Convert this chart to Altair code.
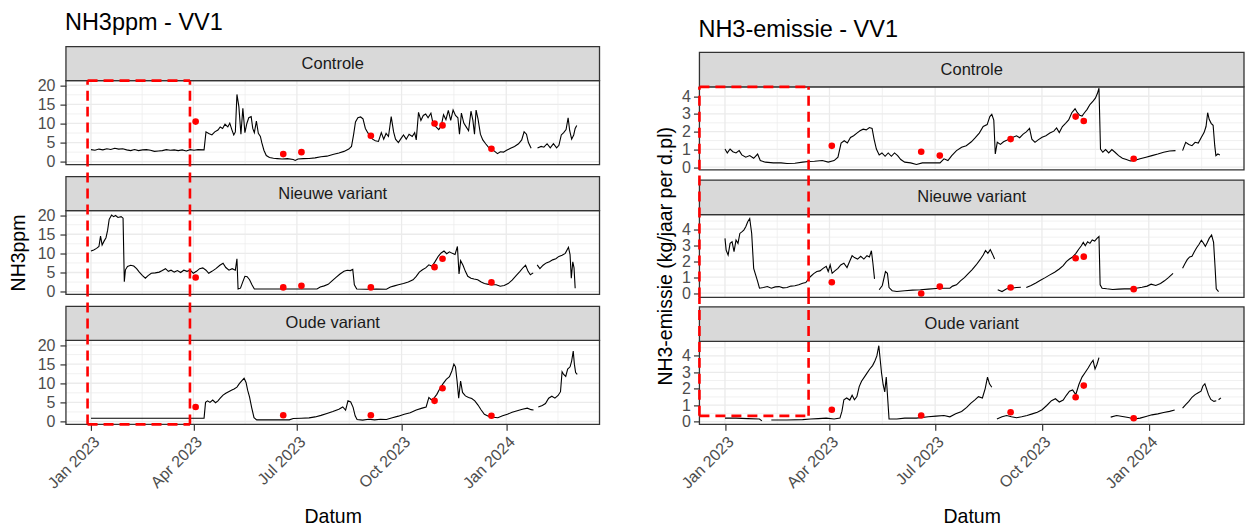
import altair as alt
import pandas as pd

FONT = "Liberation Sans"
BORDER = "#333333"
GRID = "#EBEBEB"
STRIP_FILL = "#D9D9D9"
TICK_TXT = "#4D4D4D"

START = pd.Timestamp("2023-01-01")
X_LO = pd.Timestamp("2022-12-10")
X_HI = pd.Timestamp("2024-03-23")
QUARTERS = pd.to_datetime(["2023-01-01", "2023-04-01", "2023-07-01", "2023-10-01", "2024-01-01"])
FACETS = ["Controle", "Nieuwe variant", "Oude variant"]

# sampling days for the reference measurements (days since 1 Jan 2023)
SAMPLE_DAYS = [92, 169, 185, 246, 302, 309, 352]

# continuous series: (days since 1 Jan 2023, value); None = no data
PPM_CONTROLE = [
    (0, 3.15), (3.5, 3.0), (7, 3.3), (10.5, 3.1), (13.9, 3.4), (17.4, 3.2), (20.9, 3.5), (24.4, 3.3),
    (27.9, 3.4), (31.4, 3.1), (34.9, 2.9), (38.3, 3.2), (41.8, 2.9), (45.3, 3.1), (48.8, 3.15), (52.3, 3.0),
    (55.8, 2.7), (59.3, 2.8), (62.7, 2.9), (66.2, 3.15), (69.7, 3.0), (73.2, 3.1), (76.7, 2.9), (80.2, 3.1),
    (83.7, 2.8), (87.2, 3.15), (90.6, 3.0), (94.1, 3.15), (99.4, 3.1), (101.1, 7.8), (103.5, 7.4), (106.3, 7.0),
    (108.8, 7.8), (111.6, 8.3), (113.6, 9.1), (115.7, 8.7), (117.8, 9.8), (120.3, 9.1), (122.0, 10.1),
    (123.8, 8.4), (125.5, 7.0), (126.9, 7.8), (128.3, 17.6), (130.0, 14.4), (131.8, 7.2), (133.5, 14.0),
    (135.3, 7.6), (137.0, 10.0), (138.7, 11.5), (140.8, 11.8), (142.2, 8.7), (143.6, 7.6), (145.4, 10.6),
    (147.1, 7.4), (148.9, 6.6), (150.2, 4.9), (152.0, 3.0), (154.1, 1.6), (156.9, 1.1), (160.4, 0.9),
    (163.8, 0.8), (168.0, 0.7), (172.6, 0.8), (177.8, 0.6), (179.5, 0.35), (182.0, 0.7), (186.5, 0.8),
    (191.7, 0.85), (197.0, 1.0), (202.2, 1.3), (207.4, 1.45), (212.6, 1.9), (217.9, 2.3), (222.4, 2.7),
    (226.6, 3.3), (229.0, 4.0), (230.8, 7.0), (232.5, 10.4), (234.6, 11.5), (237.0, 11.7), (239.1, 11.2),
    (241.2, 8.7), (243.3, 7.6), (245.4, 6.6), (247.5, 5.9), (249.9, 5.5), (252.7, 5.3), (255.2, 7.6),
    (257.3, 5.9), (259.4, 7.4), (261.5, 6.6), (263.9, 11.8), (266.0, 7.8), (267.7, 5.9), (270.2, 5.0),
    (272.6, 6.1), (274.7, 7.0), (277.1, 5.9), (279.6, 7.2), (282.4, 6.6), (284.5, 7.6), (285.9, 5.7),
    (287.9, 12.9), (290.0, 10.8), (292.1, 12.1), (294.2, 12.5), (296.3, 11.5), (298.8, 12.7), (300.8, 9.8),
    (303.3, 9.1), (305.7, 8.4), (307.8, 9.3), (309.9, 12.3), (312.0, 11.0), (314.1, 13.4), (316.2, 10.8),
    (318.3, 13.5), (320.4, 12.1), (322.5, 11.5), (323.9, 7.2), (325.6, 12.7), (327.7, 10.1), (329.8, 9.1),
    (331.9, 8.1), (334.0, 13.2), (335.7, 10.8), (337.1, 7.2), (338.5, 13.5), (340.2, 11.2), (342.3, 7.2),
    (344.4, 5.7), (346.9, 4.7), (349.3, 3.8), (352.1, 3.3), (354.9, 2.7), (357.3, 2.1), (359.8, 2.6),
    (362.6, 2.5), (365.3, 3.0), (368.8, 3.5), (372.3, 4.0), (375.8, 4.7), (378.6, 5.7), (380.7, 7.8),
    (382.8, 7.2), (384.5, 5.0), (386.9, 3.5),
    None,
    (392.5, 3.6), (395.7, 4.0), (398.1, 3.8), (400.9, 4.7), (403.7, 3.6), (406.5, 4.7), (409.3, 3.6),
    (411.3, 4.3), (413.4, 7.0), (415.5, 7.6), (417.6, 8.4), (419.4, 11.5), (420.8, 8.1), (422.5, 5.9),
    (424.3, 7.0), (425.6, 8.7), (427.0, 9.5),
]

PPM_NIEUW = [
    (0, 10.6), (2.4, 10.9), (4.9, 11.3), (7.0, 11.8), (8.4, 14.5), (9.8, 12.2), (11.5, 13.2), (13.2, 14.1),
    (14.6, 16.0), (16.0, 18.9), (18.1, 20.0), (19.9, 19.6), (21.6, 19.9), (23.7, 19.4), (26.5, 19.6),
    (28.2, 19.2), (29.3, 2.6), (30.3, 5.7), (32.1, 6.6), (34.9, 6.9), (37.6, 6.7), (40.1, 6.0), (42.5, 5.1),
    (45.3, 4.2), (47.8, 3.5), (50.2, 4.2), (53.0, 4.8), (56.5, 4.9), (60.0, 5.1), (62.7, 5.5), (65.5, 6.0),
    (68.0, 5.3), (70.4, 5.6), (73.2, 5.1), (76.0, 5.5), (78.8, 5.0), (81.6, 5.6), (84.4, 5.3), (87.2, 5.6),
    (89.9, 4.8), (92.7, 5.3), (95.5, 6.0), (98.3, 6.2), (101.1, 5.6), (103.5, 4.8), (106.3, 5.3),
    (109.8, 6.0), (113.3, 6.9), (116.1, 7.4), (118.5, 6.3), (121.3, 5.6), (124.1, 6.0), (126.9, 5.6),
    (128.3, 8.6), (129.3, 0.7), (131.4, 0.9), (133.5, 2.6), (135.3, 4.0), (137.3, 3.9), (139.4, 3.1),
    (141.5, 1.8), (143.6, 0.7), (149.9, 0.7), (160.4, 0.7), (170.8, 0.7), (181.3, 0.7), (191.7, 0.7),
    (198.7, 0.7), (201.5, 1.2), (205.0, 1.5), (208.5, 1.9), (211.9, 2.8), (215.4, 3.7), (218.9, 4.6),
    (222.4, 5.3), (225.2, 5.6), (228.0, 5.5), (230.1, 5.8), (231.5, 1.8), (233.6, 0.7), (242.3, 0.6),
    (251.0, 0.7), (259.7, 0.6), (263.2, 1.2), (266.7, 1.5), (270.2, 1.8), (274.7, 2.1), (278.9, 2.5),
    (283.1, 3.1), (285.9, 4.0), (288.6, 5.1), (291.4, 5.7), (294.2, 6.2), (297.0, 7.0), (299.8, 6.6),
    (302.6, 7.9), (305.4, 9.3), (307.8, 10.1), (310.3, 10.6), (312.7, 9.9), (315.1, 10.4), (317.6, 10.0),
    (320.0, 9.7), (322.1, 11.8), (323.5, 4.6), (324.9, 8.1), (327.0, 6.9), (329.1, 5.3), (331.2, 4.0),
    (334.0, 3.5), (336.7, 3.3), (339.9, 3.1), (343.0, 2.5), (345.8, 2.1), (349.3, 1.9), (352.8, 1.8),
    (356.2, 1.8), (359.7, 1.4), (363.2, 1.6), (366.7, 2.1), (370.2, 3.0), (373.7, 4.2), (377.1, 5.3),
    (379.9, 6.3), (382.0, 6.9), (384.2, 5.3), (386.2, 4.4), (388.7, 4.9),
    None,
    (392.2, 7.0), (394.6, 6.0), (397.4, 6.9), (400.2, 7.5), (403.0, 7.8), (405.8, 8.3), (408.6, 8.6),
    (411.3, 9.2), (414.1, 9.5), (416.9, 10.0), (419.7, 11.6), (421.1, 9.7), (422.2, 3.5), (423.5, 7.8),
    (424.6, 6.2), (425.6, 0.9),
]

PPM_OUD = [
    (0, 0.87), (30, 0.87), (60, 0.87), (90, 0.87), (99.4, 0.87), (100.7, 5.0), (102.5, 5.4), (104.6, 5.0),
    (107.0, 5.6), (109.5, 4.9), (111.6, 5.4), (113.6, 6.1), (116.1, 6.9), (118.5, 7.4), (121.0, 7.8),
    (123.4, 8.2), (125.8, 8.5), (128.3, 9.0), (130.4, 9.9), (132.5, 10.6), (134.6, 11.3), (136.3, 10.2),
    (137.7, 8.2), (139.4, 6.4), (141.2, 3.7), (143.3, 1.0), (145.7, 0.43), (153.4, 0.43), (163.8, 0.43),
    (174.3, 0.43), (177.8, 0.8), (184.8, 0.87), (191.7, 0.96), (197.0, 1.2), (202.2, 1.6), (207.4, 2.1),
    (212.6, 2.6), (217.9, 3.2), (221.3, 3.8), (223.8, 3.0), (225.9, 5.4), (228.3, 5.1), (230.4, 3.7),
    (232.2, 1.5), (233.9, 0.52), (238.8, 0.35), (244.0, 0.6), (249.3, 0.43), (254.5, 0.6), (259.7, 0.52),
    (264.9, 1.0), (270.2, 1.4), (275.4, 1.9), (280.6, 2.3), (285.9, 3.0), (291.1, 3.5), (294.6, 3.8),
    (297.0, 6.3), (299.1, 5.7), (301.5, 6.1), (304.0, 7.1), (306.8, 8.7), (309.5, 9.9), (312.3, 11.0),
    (315.1, 11.7), (317.2, 13.2), (319.0, 15.0), (320.4, 14.3), (321.8, 10.6), (323.2, 6.1), (324.9, 10.6),
    (326.6, 7.6), (329.1, 6.7), (331.9, 6.3), (334.7, 6.0), (337.4, 5.4), (340.2, 4.3), (343.0, 3.0),
    (345.8, 1.9), (349.3, 1.4), (353.5, 1.1), (357.6, 1.0), (361.8, 1.5), (366.0, 1.9), (370.2, 2.4),
    (374.7, 2.8), (379.2, 3.2), (383.5, 3.5), (386.9, 3.1), (389.0, 3.0),
    None,
    (393.2, 3.8), (396.7, 4.2), (399.5, 4.7), (402.3, 6.1), (405.1, 6.6), (407.8, 6.1), (410.6, 6.8),
    (412.7, 7.8), (414.1, 13.0), (415.5, 12.3), (417.3, 11.8), (419.0, 13.7), (421.1, 14.3), (422.5, 15.8),
    (423.9, 18.4), (424.9, 15.0), (426.0, 12.8), (427.4, 12.3),
]

EMIS_CONTROLE = [
    (0, 1.02), (2.0, 0.80), (4.4, 1.02), (6.8, 0.87), (9.5, 0.80), (12.2, 0.93), (14.5, 0.69), (17.9, 0.56),
    (21.3, 0.65), (24.7, 0.50), (28.1, 0.74), (30.4, 0.37), (34.8, 0.28), (41.6, 0.24), (48.3, 0.24),
    (53.4, 0.20), (60.2, 0.22), (66.9, 0.28), (72.0, 0.32), (77.1, 0.33), (83.8, 0.37), (88.9, 0.28),
    (94.0, 0.37), (97.3, 0.56), (100.0, 1.36), (102.7, 1.49), (105.4, 1.36), (108.1, 1.67), (110.8, 1.77),
    (113.6, 1.92), (116.3, 2.05), (119.0, 2.14), (121.7, 2.10), (124.4, 2.23), (126.7, 2.18), (128.4, 1.58),
    (130.4, 1.02), (132.8, 0.69), (135.2, 0.80), (137.9, 0.61), (140.6, 0.80), (143.3, 0.61), (146.0, 0.80),
    (148.7, 0.65), (151.4, 0.43), (154.8, 0.28), (159.9, 0.24), (164.9, 0.15), (170.0, 0.24), (178.4, 0.24),
    (185.2, 0.24), (188.6, 0.47), (192.0, 0.37), (195.3, 0.65), (199.4, 0.93), (203.8, 1.12), (207.8, 1.21),
    (212.2, 1.43), (215.6, 1.66), (219.0, 1.92), (222.4, 2.29), (225.8, 2.40), (228.1, 2.85), (229.8, 2.98),
    (231.5, 2.66), (232.8, 0.74), (234.5, 1.40), (237.2, 1.28), (239.9, 1.43), (242.6, 1.51), (245.4, 1.62),
    (248.1, 1.69), (251.1, 1.77), (253.8, 1.66), (256.8, 1.86), (259.5, 1.99), (262.3, 2.18), (264.3, 1.58),
    (267.0, 1.40), (269.7, 1.54), (273.1, 1.69), (276.4, 1.77), (279.8, 1.92), (283.2, 2.03), (285.6, 2.21),
    (287.9, 1.95), (290.6, 2.29), (293.3, 2.47), (296.0, 2.66), (298.7, 3.07), (301.5, 3.29), (303.5, 3.07),
    (305.5, 2.92), (307.5, 2.88), (309.6, 3.07), (311.9, 3.26), (314.3, 3.53), (317.0, 3.72), (319.0, 3.89),
    (320.7, 4.15), (322.1, 4.45), (323.4, 1.02), (325.4, 0.84), (327.8, 0.99), (330.5, 0.80), (333.2, 0.99),
    (335.9, 0.84), (339.0, 0.65), (342.3, 0.50), (345.7, 0.43), (349.1, 0.35), (352.5, 0.37), (357.5, 0.47),
    (362.6, 0.56), (367.7, 0.65), (372.8, 0.74), (377.8, 0.84), (382.9, 0.91), (388.0, 0.93),
    None,
    (394.1, 0.93), (396.8, 1.40), (399.5, 1.28), (402.2, 1.21), (404.9, 1.40), (407.6, 1.36), (410.3, 1.69),
    (412.6, 1.95), (414.3, 2.29), (415.7, 3.07), (417.0, 2.70), (418.7, 2.47), (420.4, 2.36), (421.8, 1.21),
    (422.8, 0.65), (424.5, 0.74), (426.2, 0.69),
]

EMIS_NIEUW = [
    (0, 3.42), (1.0, 2.69), (2.7, 2.38), (4.4, 3.11), (6.1, 3.21), (7.8, 2.59), (9.5, 3.32), (11.2, 3.11),
    (12.8, 3.73), (14.5, 3.83), (16.2, 3.94), (17.9, 4.15), (19.6, 4.46), (21.3, 4.66), (23.0, 3.73),
    (24.7, 1.55), (26.4, 1.14), (28.1, 0.73), (29.7, 0.31), (33.1, 0.35), (36.5, 0.41), (39.9, 0.31),
    (43.3, 0.39), (46.6, 0.41), (50.0, 0.33), (53.4, 0.35), (56.8, 0.44), (60.2, 0.46), (63.5, 0.52),
    (66.9, 0.62), (69.6, 0.66), (72.0, 0.89), (73.7, 1.04), (76.4, 1.22), (79.1, 1.35), (81.8, 1.39),
    (84.5, 1.55), (87.2, 1.68), (88.9, 1.35), (90.6, 1.76), (92.3, 1.24), (94.6, 1.39), (97.3, 1.55),
    (99.7, 1.76), (102.4, 1.87), (105.1, 1.60), (107.5, 2.01), (109.5, 2.34), (111.5, 2.22), (114.2, 2.13),
    (116.9, 2.30), (119.6, 2.13), (122.3, 2.34), (124.4, 2.26), (126.1, 2.65), (127.4, 1.87), (128.8, 0.89),
    None,
    (132.8, 0.21), (135.5, 0.48), (138.2, 1.35), (139.9, 1.24), (141.3, 0.35), (144.0, 0.15), (148.0, 0.10),
    (154.8, 0.15), (161.5, 0.19), (168.3, 0.21), (175.1, 0.25), (181.8, 0.29), (188.6, 0.31), (193.7, 0.31),
    (196.0, 0.44), (199.4, 0.52), (202.8, 0.77), (206.2, 0.97), (209.5, 1.22), (212.9, 1.47), (216.3, 1.76),
    (219.7, 2.09), (222.4, 2.38), (224.4, 2.67), (226.4, 2.49), (228.5, 2.72), (230.5, 2.42), (232.2, 2.13),
    None,
    (234.9, 0.21), (238.6, 0.10), (242.6, 0.27), (246.7, 0.31), (251.1, 0.35), (254.8, 0.37),
    None,
    (259.5, 0.35), (263.6, 0.48), (267.7, 0.64), (271.7, 0.81), (275.8, 0.97), (279.8, 1.14), (283.9, 1.31),
    (287.9, 1.51), (291.3, 1.72), (294.0, 1.97), (296.7, 2.13), (299.4, 2.26), (302.1, 2.47), (304.8, 2.76),
    (306.9, 2.96), (308.6, 3.17), (310.3, 2.96), (312.3, 3.21), (314.3, 3.11), (316.3, 3.32), (318.4, 3.25),
    (320.4, 3.42), (322.1, 3.54), (323.1, 0.52), (324.8, 0.31), (328.8, 0.27), (333.9, 0.23), (339.0, 0.25),
    (344.0, 0.27), (349.1, 0.27), (354.2, 0.31), (359.2, 0.37), (363.6, 0.44), (367.0, 0.56), (371.0, 0.48),
    (375.1, 0.60), (378.5, 0.77), (381.9, 0.97), (385.9, 1.24),
    None,
    (394.1, 1.55), (396.1, 1.84), (398.1, 2.09), (400.2, 2.26), (402.2, 2.30), (404.2, 2.59), (406.2, 2.84),
    (408.3, 3.05), (410.3, 3.30), (412.0, 3.13), (413.7, 2.92), (415.4, 3.17), (417.0, 3.42), (419.1, 3.63),
    (420.8, 3.17), (422.1, 1.60), (423.1, 0.27), (425.1, 0.10),
]

EMIS_OUD = [
    (0, 0.21), (9.5, 0.21), (19.6, 0.18), (29.7, 0.16), (31.8, 0.04),
    None,
    (39.9, 0.10), (53.4, 0.10), (66.9, 0.12), (73.7, 0.16), (80.4, 0.18), (87.2, 0.21), (94.0, 0.16),
    (99.0, 0.21), (100.7, 0.62), (102.4, 1.33), (104.8, 1.44), (107.5, 1.31), (109.5, 1.60), (111.5, 1.33),
    (113.6, 1.52), (115.6, 2.13), (117.6, 2.46), (120.0, 2.71), (122.3, 2.95), (124.7, 3.20), (127.1, 3.41),
    (129.1, 3.69), (130.8, 4.00), (132.5, 4.62), (133.8, 3.69), (134.8, 2.97), (136.2, 2.26), (137.6, 1.81),
    (138.9, 2.71), (140.3, 1.23), (141.3, 0.16), (148.0, 0.16), (154.8, 0.21), (164.9, 0.21), (175.1, 0.29),
    (181.8, 0.33), (188.6, 0.37), (193.7, 0.29), (198.7, 0.47), (203.8, 0.62), (208.2, 0.86), (211.6, 1.11),
    (215.0, 1.31), (218.3, 1.52), (221.7, 1.44), (224.1, 2.01), (226.1, 2.71), (227.8, 2.30), (229.8, 2.09),
    None,
    (234.2, 0.16), (238.6, 0.29), (242.6, 0.37), (246.7, 0.29), (251.1, 0.23), (255.5, 0.29), (260.2, 0.37),
    (264.6, 0.47), (269.0, 0.57), (273.1, 0.72), (277.1, 0.98), (281.2, 1.27), (284.6, 1.39), (287.9, 1.19),
    (291.3, 1.31), (294.0, 1.60), (296.7, 1.85), (299.4, 1.93), (302.1, 1.64), (304.8, 2.26), (307.5, 2.71),
    (310.2, 2.99), (312.9, 3.28), (315.3, 3.57), (317.0, 3.73), (318.7, 3.20), (320.4, 3.49), (322.1, 3.90),
    None,
    (332.2, 0.27), (337.3, 0.37), (342.3, 0.31), (347.4, 0.25), (352.5, 0.16), (357.5, 0.21), (362.6, 0.31),
    (367.7, 0.41), (372.8, 0.47), (377.8, 0.55), (382.9, 0.62), (387.3, 0.70),
    None,
    (394.1, 0.82), (396.8, 1.03), (399.5, 1.23), (402.2, 1.48), (404.9, 1.64), (407.6, 1.76), (410.0, 1.85),
    (411.6, 2.17), (413.3, 2.30), (414.7, 2.01), (416.4, 1.64), (418.4, 1.35), (421.1, 1.23), (423.1, 1.27),
    None,
    (425.1, 1.33), (427.1, 1.44),
]

# reference measurements on the sampling days (None = not measured)
PPM_SAMPLES_CONTROLE = [10.5, 2.0, 2.5, 6.8, 10.0, 9.5, 3.4]
PPM_SAMPLES_NIEUW = [3.7, 1.1, 1.5, 1.1, 6.4, 8.6, 2.4]
PPM_SAMPLES_OUD = [3.8, 1.65, None, 1.65, 5.4, 8.7, 1.5]
EMIS_SAMPLES_CONTROLE = [1.2, 0.87, 0.65, 1.58, 2.85, 2.6, 0.47]
EMIS_SAMPLES_NIEUW = [0.68, -0.02, 0.41, 0.35, 2.18, 2.28, 0.25]
EMIS_SAMPLES_OUD = [0.72, 0.37, None, 0.57, 1.48, 2.19, 0.2]

# y ranges per facet
PPM_RANGES = [(-0.75, 21.2), (-0.75, 21.2), (-0.75, 21.2)]
EMIS_RANGES = [(-0.15, 4.53), (-0.27, 4.91), (-0.17, 4.88)]

# highlighted period (dashed box)
PPM_BOX = {"start": "2022-12-29", "end": "2023-03-29", "top": 21.2, "bottom": -0.75}
EMIS_BOX = {"start": "2022-12-10", "end": "2023-03-14", "top": 4.53, "bottom": 0.35}


def dt(ts):
    ts = pd.Timestamp(ts)
    return alt.DateTime(year=ts.year, month=ts.month, date=ts.day)


def series_frame(pairs):
    rows, seg = [], 0
    for p in pairs:
        if p is None:
            seg += 1
            continue
        rows.append({"datum": START + pd.Timedelta(days=p[0]), "waarde": p[1], "seg": seg})
    return pd.DataFrame(rows)


def sample_frame(values):
    rows = [{"datum": START + pd.Timedelta(days=d), "waarde": v}
            for d, v in zip(SAMPLE_DAYS, values) if v is not None]
    return pd.DataFrame(rows)


def x_channel(show):
    scale = alt.Scale(domain=[dt(X_LO), dt(X_HI)], nice=False)
    if not show:
        return alt.X("datum:T", scale=scale, axis=None)
    axis = alt.Axis(
        values=[dt(q) for q in QUARTERS], format="%b %Y", labelAngle=-45, labelAlign="right",
        labelBaseline="top", labelFont=FONT, labelFontSize=16, labelColor=TICK_TXT, labelPadding=3,
        labelFlush=False, labelOverlap=False, tickSize=6, tickColor=BORDER, tickWidth=1.2,
        grid=False, domain=False, title="Datum", titleFont=FONT, titleFontSize=19.5,
        titleFontWeight="normal", titleColor="black", titleY=98, titleBaseline="alphabetic",
    )
    return alt.X("datum:T", scale=scale, axis=axis)


def y_channel(lo, top, side, with_title):
    ax = dict(values=side["ticks"], grid=False, domain=False, tickSize=6, tickColor=BORDER,
              tickWidth=1.2, labelFont=FONT, labelFontSize=16, labelColor=TICK_TXT,
              labelPadding=side["label_pad"], labelOverlap=False, labelFlush=False)
    if with_title:
        ax.update(title=side["y_title"], titleFont=FONT, titleFontSize=19.5, titleFontWeight="normal",
                  titleColor="black", titleAngle=-90, titleX=side["title_x"], titleY=side["title_y"],
                  titleAlign="center", titleBaseline="alphabetic")
    else:
        ax["title"] = None
    return alt.Y("waarde:Q", scale=alt.Scale(domain=[lo, top], nice=False, zero=False), axis=alt.Axis(**ax))


def facet_block(side, i):
    lo, hi = side["ranges"][i]
    unit = (hi - lo) / side["panel_h"]
    strip_top = hi + side["strip_h"] * unit
    top = strip_top + side["gaps"][i] * unit
    height = side["panel_h"] + side["strip_h"] + side["gaps"][i]

    xc = x_channel(i == 2)
    yc = y_channel(lo, top, side, i == 1)
    y2 = alt.Y2("waarde2:Q")
    x2 = alt.X2("datum2:T")

    major = [v for v in side["ticks"] if lo <= v <= hi]
    minor = [v for v in side["minor"] if lo <= v <= hi]
    edges = pd.date_range("2022-10-01", "2024-04-01", freq="QS")
    mids = [a + (b - a) / 2 for a, b in zip(edges[:-1], edges[1:])]
    vmajor = [d for d in QUARTERS if X_LO <= d <= X_HI]
    vminor = [d for d in mids if X_LO <= d <= X_HI]

    h_major = alt.Chart(pd.DataFrame({"waarde": major})).mark_rule(color=GRID, strokeWidth=1.3).encode(y=yc)
    h_minor = alt.Chart(pd.DataFrame({"waarde": minor})).mark_rule(color=GRID, strokeWidth=0.7).encode(y=yc)
    v_major = alt.Chart(pd.DataFrame({"datum": vmajor, "waarde": lo, "waarde2": hi})).mark_rule(
        color=GRID, strokeWidth=1.3).encode(x=xc, y=yc, y2=y2)
    v_minor = alt.Chart(pd.DataFrame({"datum": vminor, "waarde": lo, "waarde2": hi})).mark_rule(
        color=GRID, strokeWidth=0.7).encode(x=xc, y=yc, y2=y2)

    line = alt.Chart(series_frame(side["series"][i])).mark_line(
        color="black", strokeWidth=1.1).encode(x=xc, y=yc, detail="seg:N")
    pts = alt.Chart(sample_frame(side["samples"][i])).mark_circle(
        color="#FF0000", size=44, opacity=1).encode(x=xc, y=yc)

    frame = pd.DataFrame({"datum": [X_LO], "datum2": [X_HI], "waarde": [lo], "waarde2": [hi]})
    border = alt.Chart(frame).mark_rect(fillOpacity=0, stroke=BORDER, strokeWidth=1.3).encode(
        x=xc, x2=x2, y=yc, y2=y2)
    strip = alt.Chart(pd.DataFrame({"datum": [X_LO], "datum2": [X_HI], "waarde": [hi],
                                    "waarde2": [strip_top]})).mark_rect(
        fill=STRIP_FILL, stroke=BORDER, strokeWidth=1.3).encode(x=xc, x2=x2, y=yc, y2=y2)
    label = alt.Chart(pd.DataFrame({"datum": [X_LO + (X_HI - X_LO) / 2], "waarde": [(hi + strip_top) / 2],
                                    "naam": [FACETS[i]]})).mark_text(
        font=FONT, fontSize=16.5, color="#1A1A1A", baseline="middle", align="center").encode(
        x=xc, y=yc, text="naam:N")

    # dashed box marking the highlighted period, split over the three facets
    box = side["box"]
    b0, b1 = pd.Timestamp(box["start"]), pd.Timestamp(box["end"])
    y_low = box["bottom"] if i == 2 else lo
    y_high = box["top"] if i == 0 else top
    segs = [(b0, b0, y_low, y_high), (b1, b1, y_low, y_high)]
    if i == 0:
        segs.append((b0, b1, box["top"], box["top"]))
    if i == 2:
        segs.append((b0, b1, box["bottom"], box["bottom"]))
    seg_df = pd.DataFrame(segs, columns=["datum", "datum2", "waarde", "waarde2"])
    dashed = alt.Chart(seg_df).mark_rule(color="#FF0000", strokeWidth=2.6, strokeDash=[10, 6]).encode(
        x=xc, x2=x2, y=yc, y2=y2)

    return alt.layer(h_minor, h_major, v_minor, v_major, line, pts, border, strip, label, dashed).properties(
        width=side["width"], height=height)


LEFT = {
    "width": 534, "panel_h": 84, "strip_h": 34, "gaps": [12, 12, 12],
    "ticks": [0, 5, 10, 15, 20], "minor": [2.5, 7.5, 12.5, 17.5],
    "ranges": PPM_RANGES, "series": [PPM_CONTROLE, PPM_NIEUW, PPM_OUD],
    "samples": [PPM_SAMPLES_CONTROLE, PPM_SAMPLES_NIEUW, PPM_SAMPLES_OUD],
    "y_title": "NH3ppm", "title_x": -41, "title_y": 88, "label_pad": 5, "box": PPM_BOX,
}
RIGHT = {
    "width": 545, "panel_h": 83, "strip_h": 34.5, "gaps": [17.7, 9.5, 9.5],
    "ticks": [0, 1, 2, 3, 4], "minor": [0.5, 1.5, 2.5, 3.5, 4.5],
    "ranges": EMIS_RANGES, "series": [EMIS_CONTROLE, EMIS_NIEUW, EMIS_OUD],
    "samples": [EMIS_SAMPLES_CONTROLE, EMIS_SAMPLES_NIEUW, EMIS_SAMPLES_OUD],
    "y_title": "NH3-emissie (kg/jaar per d.pl)", "title_x": -28, "title_y": 85.3, "label_pad": 3,
    "box": EMIS_BOX,
}


def side_chart(side, title, dx, dy):
    return alt.vconcat(
        *[facet_block(side, i) for i in range(3)], spacing=0, bounds="flush",
        title=alt.TitleParams(text=title, anchor="start", frame="group", font=FONT, fontSize=23.5,
                              fontWeight="normal", color="black", baseline="alphabetic",
                              offset=4, dx=dx, dy=dy),
    )


chart = alt.hconcat(
    side_chart(LEFT, "NH3ppm - VV1", -1, 23),
    side_chart(RIGHT, "NH3-emissie - VV1", -1, 30),
    spacing=54,
).properties(
    padding={"left": 9, "top": 10.5, "right": 0, "bottom": 0},
    background="white",
).configure_view(strokeWidth=0)

chart.save("out.html", embed_options={"renderer": "svg", "actions": False})
